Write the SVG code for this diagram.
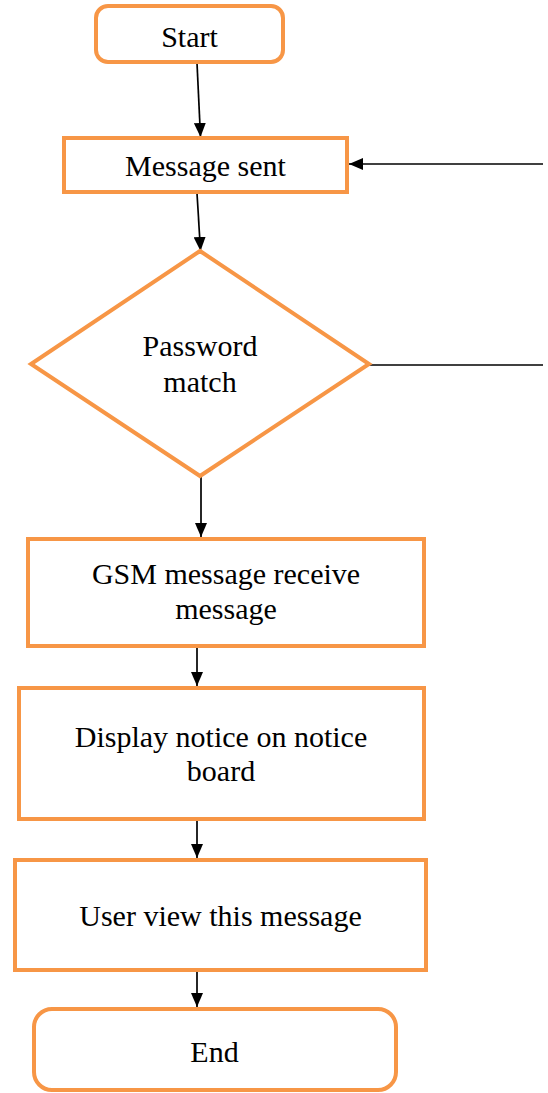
<svg xmlns="http://www.w3.org/2000/svg" width="548" height="1093" viewBox="0 0 548 1093">
<defs>
<marker id="ah" viewBox="0 0 14 12" refX="14" refY="6" markerWidth="14" markerHeight="12" markerUnits="userSpaceOnUse" orient="auto">
<path d="M0,0 L14,6 L0,12 z" fill="#000"/>
</marker>
</defs>
<style>
.n{fill:#fff;stroke:#F79646;stroke-width:4}
.t{font-family:'Liberation Serif','Times New Roman',Times,'DejaVu Serif',serif;font-size:30px;fill:#000;text-anchor:middle}
.c{stroke:#000;stroke-width:1.7;fill:none}
</style>
<rect width="548" height="1093" fill="#fff"/>
<g id="connectors">
<line class="c" x1="197" y1="63" x2="200.5" y2="137" marker-end="url(#ah)"/>
<line class="c" x1="197" y1="193" x2="200.5" y2="251" marker-end="url(#ah)"/>
<line class="c" x1="543" y1="164" x2="349" y2="164" marker-end="url(#ah)"/>
<line class="c" x1="369" y1="365" x2="543" y2="365"/>
<line class="c" x1="201" y1="476" x2="201" y2="537" marker-end="url(#ah)"/>
<line class="c" x1="197" y1="647" x2="197" y2="686" marker-end="url(#ah)"/>
<line class="c" x1="197" y1="821" x2="197" y2="858" marker-end="url(#ah)"/>
<line class="c" x1="197" y1="971" x2="197" y2="1007" marker-end="url(#ah)"/>
</g>
<g id="start">
<rect class="n" x="96" y="6" width="187" height="56" rx="12"/>
<text class="t" x="189.5" y="47">Start</text>
</g>
<g id="message-sent">
<rect class="n" x="64" y="138" width="283" height="54"/>
<text class="t" x="205.5" y="176">Message sent</text>
</g>
<g id="password-match">
<polygon class="n" points="200,251 369,364 200,476 31,364"/>
<text class="t" x="200" y="356">Password</text>
<text class="t" x="200" y="392">match</text>
</g>
<g id="gsm">
<rect class="n" x="28" y="539" width="396" height="107"/>
<text class="t" x="226" y="584">GSM message receive</text>
<text class="t" x="226" y="619">message</text>
</g>
<g id="display">
<rect class="n" x="19" y="688" width="405" height="131"/>
<text class="t" x="221" y="747">Display notice on notice</text>
<text class="t" x="221" y="781">board</text>
</g>
<g id="user-view">
<rect class="n" x="15" y="860" width="411" height="110"/>
<text class="t" x="220.5" y="926">User view this message</text>
</g>
<g id="end">
<rect class="n" x="34" y="1009" width="362" height="81" rx="18"/>
<text class="t" x="214.5" y="1062">End</text>
</g>
</svg>
